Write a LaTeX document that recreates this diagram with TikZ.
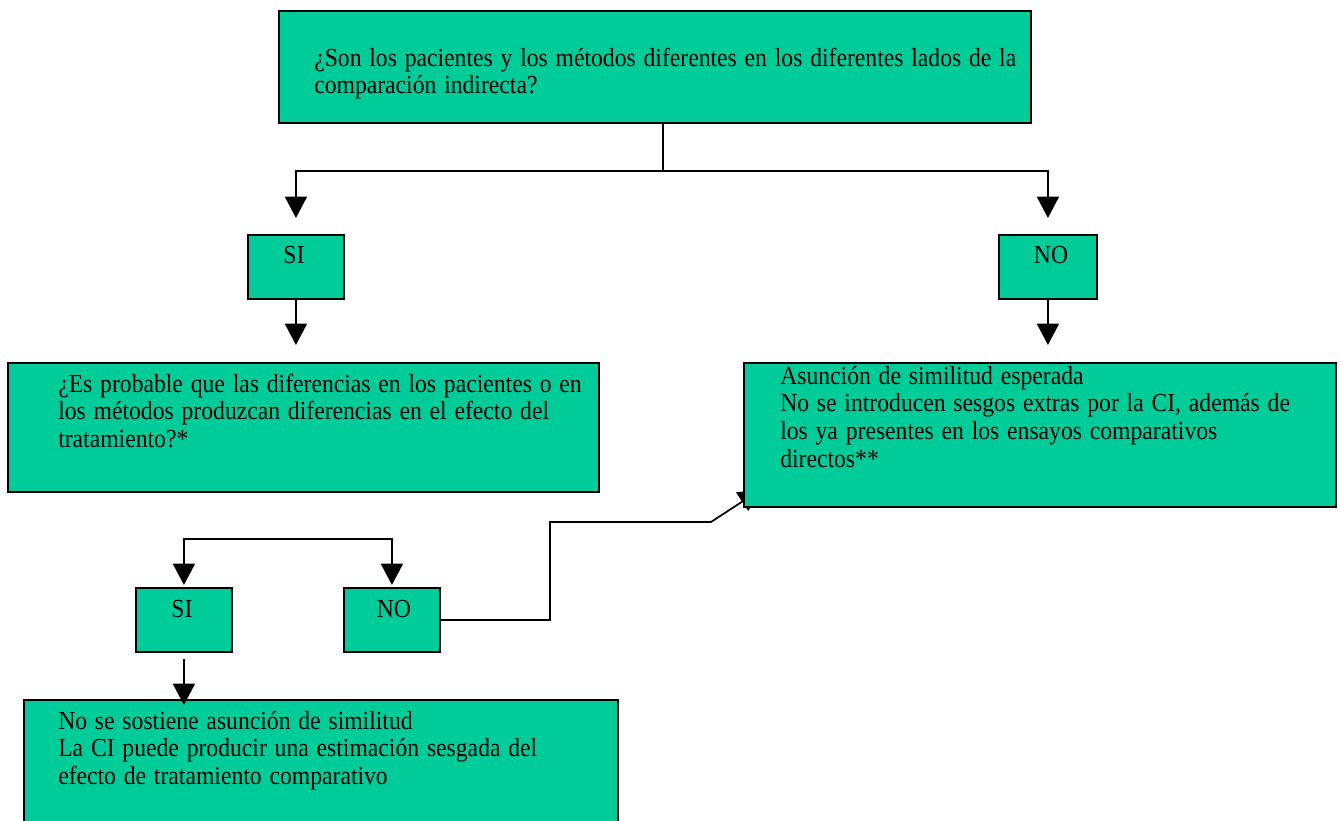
\documentclass[tikz,border=0pt]{standalone}
\usepackage{fontspec}
\setmainfont{Liberation Serif}
\newfontfamily\boxfont[FakeStretch=0.91]{Liberation Serif}
\newcommand\boxtextfont{\boxfont\fontsize{19.5}{20.8}\selectfont}
\newcommand\fixedspaces{\spaceskip=5.85pt\relax}
\usetikzlibrary{arrows.meta,backgrounds}
\definecolor{boxgreen}{HTML}{00CC99}
\begin{document}
\begin{tikzpicture}[x=0.75pt,y=-0.75pt,
  box/.style={draw=black, line width=1.4pt, fill=boxgreen, rectangle,
    inner sep=0pt, anchor=north west},
  bodytext/.style={inner sep=0pt, anchor=base west, align=left,
    text width=600pt, font=\boxtextfont, execute at begin node=\fixedspaces},
  answer/.style={inner sep=0pt, anchor=base, font=\boxtextfont},
  link/.style={line width=1.3pt, draw=black},
  arr/.style={link, -{Triangle[width=16.5pt,length=16pt]}}
]
\useasboundingbox (0,0) rectangle (1340,821);
\clip (0,0) rectangle (1340,821);

% boxes
\node[box, minimum width=564pt, minimum height=84pt] (top) at (278,10) {};
\node[box, minimum width=72pt, minimum height=48pt] (si1) at (247,234) {};
\node[box, minimum width=73.5pt, minimum height=48pt] (no1) at (998,234) {};
\node[box, minimum width=443.25pt, minimum height=96.75pt] (q2) at (7,362) {};
\node[box, minimum width=444pt, minimum height=108pt] (res1) at (743,362) {};
\node[box, minimum width=72pt, minimum height=48pt] (si2) at (135,587) {};
\node[box, minimum width=72pt, minimum height=48pt] (no2) at (343,587) {};
\node[box, minimum width=445.5pt, minimum height=100pt] (res2) at (23,699) {};

% texts
\node[bodytext] (ttop) at (314,66)
  {¿Son los pacientes y los métodos diferentes en los diferentes lados de la\\
   comparación indirecta?};
\node[answer] (tsi1) at (294,263) {SI};
\node[answer] (tno1) at (1051,263) {NO};
\node[bodytext] (tq2) at (58,392)
  {¿Es probable que las diferencias en los pacientes o en\\
   los métodos produzcan diferencias en el efecto del\\
   tratamiento?*};
\node[bodytext] (tres1) at (780,384)
  {Asunción de similitud esperada\\
   No se introducen sesgos extras por la CI, además de\\
   los ya presentes en los ensayos comparativos\\
   directos**};
\node[answer] (tsi2) at (182,617) {SI};
\node[answer] (tno2) at (394,617) {NO};
\node[bodytext] (tres2) at (58,729)
  {No se sostiene asunción de similitud\\
   La CI puede producir una estimación sesgada del\\
   efecto de tratamiento comparativo};

% connectors
\coordinate (fork1) at (663,171);
\draw[link] (fork1 |- top.south) -- (fork1);
\draw[arr, shorten >=12pt] (fork1) -| (si1.north);
\draw[arr, shorten >=12pt] (fork1) -| (no1.north);
\draw[arr, shorten >=12.75pt] (si1.south) -- (si1.south |- q2.north);
\draw[arr, shorten >=12.75pt] (no1.south) -- (no1.south |- res1.north);

\coordinate (fork2) at (287,539);
\draw[arr, shorten >=1.5pt] (fork2) -| (si2.north);
\draw[arr, shorten >=1.5pt] (fork2) -| (no2.north);
\draw[arr, shorten <=4.5pt, shorten >=-4.5pt] (si2.south) -- (si2.south |- res2.north);

\begin{scope}[on background layer]
  \coordinate (bend1) at (550,522);
  \coordinate (bend2) at (711,522);
  \coordinate (tipR) at (760,490);
  \draw[arr] (no2.east) -| (bend1) -- (bend2) -- (tipR);
\end{scope}
\end{tikzpicture}
\end{document}
